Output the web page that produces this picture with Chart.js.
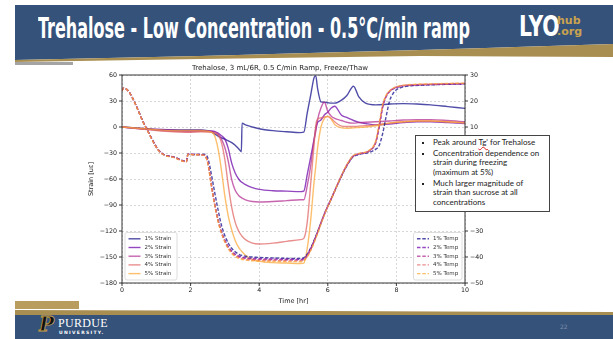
<!DOCTYPE html>
<html>
<head>
<meta charset="utf-8">
<script src="https://cdn.jsdelivr.net/npm/chart.js@4.4.1/dist/chart.umd.min.js"></script>
<style>
  html, body { margin: 0; padding: 0; background: #fff; }
  body { width: 613px; height: 339px; position: relative; overflow: hidden; font-family: "DejaVu Sans", sans-serif; }
  #deco { position: absolute; left: 0; top: 0; }
  #slideTitle { position: absolute; left: 38px; top: 14px; color: #fff; font: bold 29px/29px "DejaVu Sans Condensed", "DejaVu Sans"; white-space: nowrap; transform-origin: 0 0; }
  #lyo { position: absolute; left: 519px; top: 12px; color: #fff; font: bold 29px/29px "DejaVu Sans Condensed", "DejaVu Sans"; transform-origin: 0 0; transform: scaleX(0.78); }
  #hub { position: absolute; left: 557px; top: 15px; color: #c9a24f; font: bold 11px/11px "DejaVu Sans"; }
  #org { position: absolute; left: 557px; top: 26px; color: #c9a24f; font: bold 11px/11px "DejaVu Sans"; }
  #chartCanvas { position: absolute; left: 60px; top: 58px; }
  #notes { position: absolute; left: 415px; top: 135px; width: 135px; height: 77px; box-sizing: border-box; border: 1px solid #444; background: #fff; font: 8px/9.5px Lato, "DejaVu Sans", sans-serif; color: #222; padding-top: 2px; }
  #notes ul { margin: 0; padding-left: 17px; list-style: square; }
  #notes li { margin-bottom: 1.4px; white-space: nowrap; }
  #notes li::marker { font-size: 6px; }
  .sq { text-decoration: underline wavy #d22; text-decoration-thickness: 0.5px; }
  #pLogo { position: absolute; left: 39px; top: 314px; font: bold italic 20px/20px "DejaVu Serif"; color: #111; -webkit-text-stroke: 0.8px #c9a24f; }
  #purdue { position: absolute; left: 58px; top: 317px; font: 12px/12px "Liberation Serif"; color: #fff; letter-spacing: 0.3px; }
  #univ { position: absolute; left: 59px; top: 330px; font: bold 4.5px/5px "DejaVu Sans"; color: #fff; letter-spacing: 1.3px; }
  #pageNo { position: absolute; left: 560px; top: 324px; font: 6px/6px "DejaVu Sans"; color: #8090aa; }
</style>
</head>
<body>
<svg id="deco" width="613" height="339">
  <polygon points="15,5 613,5 613,44 420,50 200,56 15,60" fill="#35527b"/>
  <polygon points="613,44 420,50 200,56 15,60 15,62 200,59 420,56 613,57" fill="#a98e52"/>
  <rect x="15" y="62" width="58" height="3" fill="#5a5a5a" opacity="0.55"/>
  <rect x="15" y="301" width="64" height="8" fill="#b89d5f"/>
  <polygon points="15,310 613,312 613,316 15,315" fill="#a98e52"/>
  <rect x="15" y="315" width="598" height="24" fill="#35527b"/>
</svg>
<div id="slideTitle">Trehalose - Low Concentration - 0.5°C/min ramp</div>
<div id="lyo">LYO</div>
<div id="hub">hub</div>
<div id="org">.org</div>

<canvas id="chartCanvas" width="440" height="256"></canvas>

<div id="notes"><ul>
  <li>Peak around <span class="sq">Tg'</span> for Trehalose</li>
  <li>Concentration dependence on<br>strain during freezing<br>(maximum at 5%)</li>
  <li>Much larger magnitude of<br>strain than sucrose at all<br>concentrations</li>
</ul></div>

<div id="pLogo">P</div>
<div id="purdue">PURDUE</div>
<div id="univ">UNIVERSITY.</div>
<div id="pageNo">22</div>

<script>
// time axis for the thermocouple traces (hr)
const tempHours = [0, 0.05, 0.7, 1.06, 1.25, 1.5, 1.88, 1.92, 2.2, 2.4, 2.5, 2.6, 2.7, 2.8, 2.9, 3.0, 3.1, 3.25, 3.4, 3.6, 3.9, 4.5, 5.2, 5.3, 6.0, 6.7, 6.9, 7.2, 7.4, 7.5, 7.6, 7.7, 7.8, 7.9, 8.0, 8.2, 8.5, 9.0, 10.0];

// product temperature, deg C (right axis)
const temp1 = [24, 25, 9.8, 1.2, -0.8, -1.5, -3.2, -0.5, -0.6, -0.5, -1.8, -7.8, -15, -21.8, -27.8, -31.8, -34.7, -37.4, -38.9, -39.7, -40.1, -40.4, -40.6, -40.3, -20.5, -2.0, -0.6, 0.2, 1.5, 3.0, 7.5, 14, 20, 22.8, 24.3, 25.4, 25.9, 26.2, 26.6];
const temp2 = [24, 25, 9.8, 1.2, -0.8, -1.5, -3.3, -0.5, -0.6, -0.8, -3.5, -11.5, -19.3, -25.5, -30.2, -33.5, -36, -38.4, -39.6, -40.3, -40.6, -40.8, -40.9, -40.6, -20.4, -1.8, -0.4, 0.7, 4.0, 10, 17.5, 21.6, 23.6, 24.6, 25.2, 25.8, 26.1, 26.3, 26.6];
const temp3 = [24, 25, 9.7, 1.1, -0.8, -1.6, -3.3, -0.5, -0.6, -0.8, -3.6, -11.8, -19.5, -25.8, -30.5, -33.8, -36.3, -38.7, -39.9, -40.6, -40.9, -41.1, -41.2, -40.9, -20.5, -1.7, -0.3, 0.8, 4.3, 10.5, 18, 21.8, 23.7, 24.7, 25.3, 25.9, 26.2, 26.4, 26.7];
const temp4 = [24, 25, 9.7, 1.1, -0.9, -1.6, -3.4, -0.5, -0.7, -0.9, -3.8, -12, -19.8, -26, -30.7, -34, -36.6, -39, -40.2, -40.9, -41.2, -41.4, -41.5, -41.2, -20.6, -1.6, -0.3, 0.9, 4.5, 11, 18.3, 22, 23.8, 24.8, 25.4, 26, 26.3, 26.5, 26.8];
const temp5 = [24, 25, 9.6, 1.0, -0.9, -1.7, -3.4, -0.6, -0.7, -0.9, -4.0, -12.3, -20, -26.3, -31, -34.3, -36.9, -39.3, -40.5, -41.2, -41.5, -41.7, -41.8, -41.5, -20.7, -1.5, -0.2, 1.0, 4.8, 11.5, 18.6, 22.2, 23.9, 24.9, 25.5, 26.1, 26.4, 26.6, 26.9];

// time axis for the strain gauge traces (hr)
const strainHours = [0, 0.5, 1.0, 1.5, 1.9, 2.3, 2.6, 2.7, 2.8, 2.9, 3.0, 3.1, 3.2, 3.3, 3.4, 3.48, 3.5, 3.6, 3.8, 4.0, 4.4, 4.8, 5.2, 5.3, 5.4, 5.5, 5.6, 5.65, 5.7, 5.8, 5.9, 6.0, 6.1, 6.2, 6.4, 6.55, 6.75, 6.9, 7.1, 7.4, 7.8, 8.2, 8.6, 9.0, 9.5, 10.0];

// strain, microstrain (left axis)
const strain1 = [0, -1.5, -3, -3.5, -3.5, -3.5, -5.5, -8, -10.5, -12.5, -14, -16, -18, -21, -25, -28.5, 4.5, 2.5, 0, -2, -4.2, -5.5, -6.5, -6, 16, 36.5, 57, 59, 45, 29, 28.5, 28, 27.5, 27.5, 31, 36, 47, 35, 27.5, 25.5, 26.5, 27, 26.5, 25.5, 23.5, 21.5];
const strain2 = [0, -1.5, -2.5, -3.5, -4, -4, -4.5, -5, -7, -10, -14, -25, -42, -53, -60, -63.5, -64, -66.5, -70, -72, -73.5, -74, -74.6, -74, -55, -35, -14, -2, 5, 8, 14, 17, 22, 24, 13.5, 11, 7.5, 5.5, 4, 2.5, 3.5, 5, 6, 6, 5, 4];
const strain3 = [0, -2, -3.5, -5, -5.5, -5, -5, -6, -8.5, -14, -24, -40, -61, -73, -79, -81.5, -82, -84, -86, -86.5, -86, -85, -84, -84, -68, -45, -15, -5, 8, 22, 28.5, 18, 12.5, 10, 7.5, 5.5, 4.5, 5, 5.5, 6, 7, 8, 8.5, 8.5, 7.5, 6];
const strain4 = [0, -2, -4, -5.5, -6, -5.5, -6, -7, -9, -18, -38, -68, -93, -110, -120, -125, -126, -130, -134, -135, -134, -132, -130, -128.5, -110, -66, -20, 2, 9, 10.5, 11.5, 12, 10, 6, 1, 0.5, 0.5, 1, 1.5, 2.5, 4.5, 6, 7, 7, 6, 5];
const strain5 = [0, -1.5, -3, -4, -4, -4, -6, -10, -25, -50, -80, -103, -119, -131, -139, -143, -144, -148, -153, -155, -156.5, -157, -157.5, -157, -140, -108, -63, -45, -25, 0, 10, 12.5, 9, 3, -1, -1.5, -1, -0.5, 0, 1.5, 4.5, 6, 7, 7, 6, 4.5];

const concentrations = ["1%", "2%", "3%", "4%", "5%"];
const strainSeries = [strain1, strain2, strain3, strain4, strain5];
const tempSeries = [temp1, temp2, temp3, temp4, temp5];

// matplotlib plasma at 0, .2, .4, .6, .8 with alpha
const lineColors = [
  "rgba(13,8,135,0.72)",
  "rgba(106,0,168,0.72)",
  "rgba(177,42,144,0.72)",
  "rgba(225,100,98,0.72)",
  "rgba(252,166,54,0.72)",
];

const strainTicks = { min: -180, max: 60, step: 30 };
const tempTicks = { min: -50, max: 30, step: 10 };

function toPoints(xs, ys) {
  return xs.map((x, i) => ({ x, y: ys[i] }));
}

function minusLabel(v) {
  return v < 0 ? "\u2212" + Math.abs(v) : String(v);
}

const tickFont = { family: "DejaVu Sans", size: 6.3 };

const datasets = [];
strainSeries.forEach((vals, i) => {
  datasets.push({
    label: `${concentrations[i]} Strain`,
    data: toPoints(strainHours, vals),
    borderColor: lineColors[i],
    borderWidth: 1.4,
    yAxisID: "y",
    order: 10 - i,
  });
});
tempSeries.forEach((vals, i) => {
  datasets.push({
    label: `${concentrations[i]} Temp`,
    data: toPoints(tempHours, vals),
    borderColor: lineColors[i],
    borderWidth: 1.4,
    borderDash: [3.5, 1.8],
    yAxisID: "y1",
    order: 5 - i,
  });
});

function drawLegendBox(ctx, sets, left, top, width) {
  const rowH = 8.7;
  const height = rowH * sets.length + 4;
  ctx.save();
  ctx.fillStyle = "rgba(255,255,255,0.85)";
  ctx.strokeStyle = "#d4d4d4";
  ctx.lineWidth = 0.8;
  ctx.beginPath();
  if (ctx.roundRect) ctx.roundRect(left, top, width, height, 2);
  else ctx.rect(left, top, width, height);
  ctx.fill();
  ctx.stroke();
  ctx.font = '5.5px "DejaVu Sans"';
  ctx.textBaseline = "middle";
  sets.forEach((ds, i) => {
    const y = top + 6.3 + i * rowH;
    ctx.strokeStyle = ds.borderColor;
    ctx.lineWidth = ds.borderWidth;
    ctx.setLineDash(ds.borderDash || []);
    ctx.beginPath();
    ctx.moveTo(left + 3.5, y);
    ctx.lineTo(left + 15.5, y);
    ctx.stroke();
    ctx.setLineDash([]);
    ctx.fillStyle = "#333";
    ctx.fillText(ds.label, left + 19.5, y);
  });
  ctx.restore();
  return height;
}

const frameAndLegends = {
  id: "frameAndLegends",
  afterDraw(chart) {
    const { ctx, chartArea: a, scales } = chart;
    ctx.save();
    ctx.strokeStyle = "#222";
    ctx.lineWidth = 0.9;
    ctx.strokeRect(a.left, a.top, a.right - a.left, a.bottom - a.top);
    ctx.beginPath();
    scales.x.ticks.forEach((t) => {
      const px = scales.x.getPixelForValue(t.value);
      ctx.moveTo(px, a.bottom);
      ctx.lineTo(px, a.bottom + 3);
    });
    scales.y.ticks.forEach((t) => {
      const py = scales.y.getPixelForValue(t.value);
      ctx.moveTo(a.left - 3, py);
      ctx.lineTo(a.left, py);
    });
    scales.y1.ticks.forEach((t) => {
      const py = scales.y1.getPixelForValue(t.value);
      ctx.moveTo(a.right, py);
      ctx.lineTo(a.right + 3, py);
    });
    ctx.stroke();
    ctx.restore();

    const sets = chart.data.datasets;
    const rowsH = 8.7 * 5 + 4;
    drawLegendBox(ctx, sets.slice(0, 5), a.left + 3, a.bottom - 3 - rowsH, 52);
    drawLegendBox(ctx, sets.slice(5), a.right - 3 - 48.5, a.bottom - 3 - rowsH, 48.5);
  },
};

new Chart(document.getElementById("chartCanvas"), {
  type: "line",
  data: { datasets },
  options: {
    responsive: false,
    animation: false,
    devicePixelRatio: 1,
    elements: {
      point: { radius: 0 },
      line: { cubicInterpolationMode: "monotone", fill: false },
    },
    layout: { padding: 0 },
    plugins: {
      legend: { display: false },
      tooltip: { enabled: false },
      title: {
        display: true,
        text: "Trehalose, 3 mL/6R, 0.5 C/min Ramp, Freeze/Thaw",
        color: "#222",
        font: { family: "DejaVu Sans", size: 7, weight: "normal" },
        padding: { top: 5.6, bottom: 3 },
      },
    },
    scales: {
      x: {
        type: "linear",
        min: 0,
        max: 10,
        ticks: { stepSize: 2, color: "#222", font: tickFont, padding: 4, maxRotation: 0 },
        grid: { color: "rgba(0,0,0,0.2)", lineWidth: 0.8, drawTicks: false },
        border: { display: false, dash: [2, 2] },
        title: { display: true, text: "Time [hr]", color: "#222", font: { family: "DejaVu Sans", size: 6.5 }, padding: { top: 0, bottom: 9 } },
        afterFit: (scale) => { scale.height = 31; },
      },
      y: {
        position: "left",
        min: strainTicks.min,
        max: strainTicks.max,
        ticks: { stepSize: strainTicks.step, color: "#222", font: tickFont, padding: 5, callback: minusLabel },
        grid: { color: "rgba(0,0,0,0.2)", lineWidth: 0.8, drawTicks: false },
        border: { display: false, dash: [2, 2] },
        title: { display: true, text: "Strain [uε]", color: "#222", font: { family: "DejaVu Sans", size: 6.5 }, padding: { top: 27, bottom: 0 } },
        afterFit: (scale) => { scale.width = 62; },
      },
      y1: {
        position: "right",
        min: tempTicks.min,
        max: tempTicks.max,
        ticks: { stepSize: tempTicks.step, color: "#222", font: tickFont, padding: 5, callback: minusLabel },
        grid: { drawOnChartArea: false, drawTicks: false },
        border: { display: false },
        afterFit: (scale) => { scale.width = 35; },
      },
    },
  },
  plugins: [frameAndLegends],
});

// squeeze the slide title into the width it has on the slide
const titleEl = document.getElementById("slideTitle");
titleEl.style.transform = `scaleX(${432 / titleEl.getBoundingClientRect().width})`;
</script>
</body>
</html>
